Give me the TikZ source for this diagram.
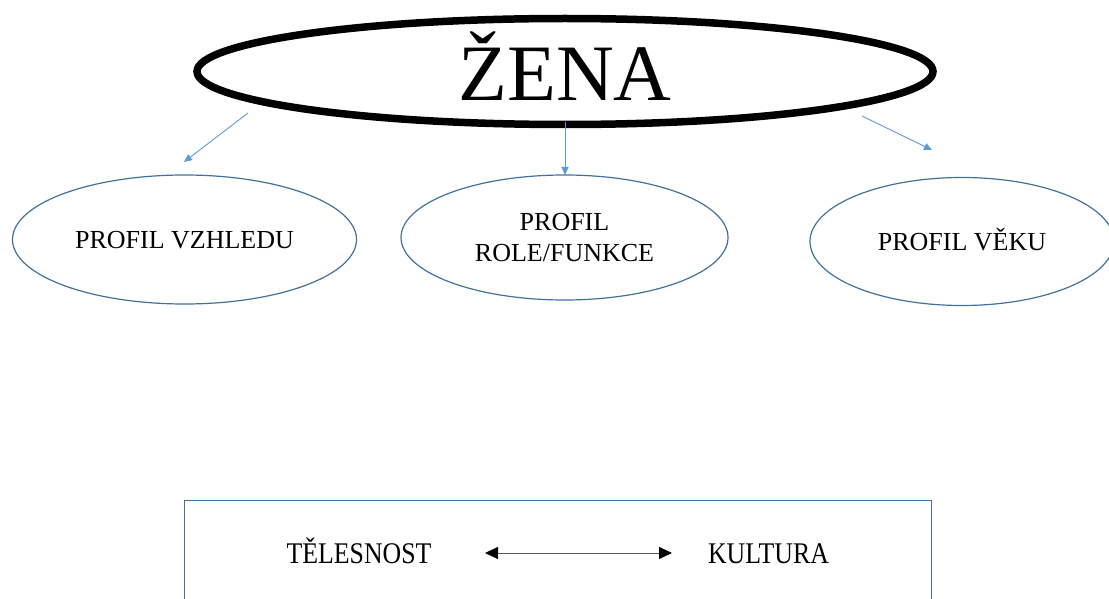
\documentclass[tikz,border=0pt]{standalone}
\usepackage{fontspec}
\setmainfont{Liberation Serif}
\usepackage{graphicx}
\usetikzlibrary{shapes.geometric,arrows.meta}
\definecolor{ellblue}{HTML}{41719C}
\definecolor{arrblue}{HTML}{5B9BD5}
\begin{document}
\begin{tikzpicture}[x=1pt,y=-1pt,
  mainell/.style={ellipse, draw=black, line width=7.5pt, inner sep=0pt,
    minimum width=736pt, minimum height=106pt,
    font=\fontsize{80}{90}\selectfont, text height=59pt, text depth=0pt},
  prof/.style={ellipse, draw=ellblue, line width=1.2pt, inner sep=0pt,
    font=\fontsize{26}{31}\selectfont, align=center},
  conn/.style={draw=arrblue, line width=0.9pt, -{Triangle[length=8pt,width=7pt]}},
  bottext/.style={inner sep=0pt, anchor=base, font=\fontsize{30}{34}\selectfont},
  frame/.style={draw=ellblue, line width=1.2pt},
  dbl/.style={draw=gray!70!black, line width=0.8pt,
    {Triangle[length=13pt,width=12pt,color=black]}-{Triangle[length=13pt,width=12pt,color=black]}}
]
\useasboundingbox (0,0) rectangle (1109,599);
\clip (0,0) rectangle (1109,599);

\node[mainell] (zena) at (565,71.5) {ŽENA};

\node[prof, minimum width=344pt, minimum height=129pt, text height=17pt, text depth=0pt] (vzhled) at (184.5,239.5) {PROFIL VZHLEDU};
\node[prof, minimum width=327pt, minimum height=125pt] (role) at (564.5,237.5) {PROFIL\\ROLE/FUNKCE};
\node[prof, minimum width=304pt, minimum height=128pt, text height=17pt, text depth=0pt] (vek) at (962,241.5) {PROFIL VĚKU};

\coordinate (s1) at (248,113);
\coordinate (e1) at (184,162);
\coordinate (s2) at (565,122);
\coordinate (e2) at (565,175);
\coordinate (s3) at (862,116);
\coordinate (e3) at (932,150);
\draw[conn] (s1) -- (e1);
\draw[conn] (s2) -- (e2);
\draw[conn] (s3) -- (e3);

\node[frame, minimum width=747pt, minimum height=140pt, anchor=north west] (box) at (184,500) {};

\node[bottext] (tel) at (359,563) {\scalebox{0.86}[1]{TĚLESNOST}};
\node[bottext] (kul) at (768.5,563) {\scalebox{0.86}[1]{KULTURA}};
\coordinate (al) at (485,553);
\coordinate (ar) at (672,553);
\draw[dbl] (al) -- (ar);
\end{tikzpicture}
\end{document}
